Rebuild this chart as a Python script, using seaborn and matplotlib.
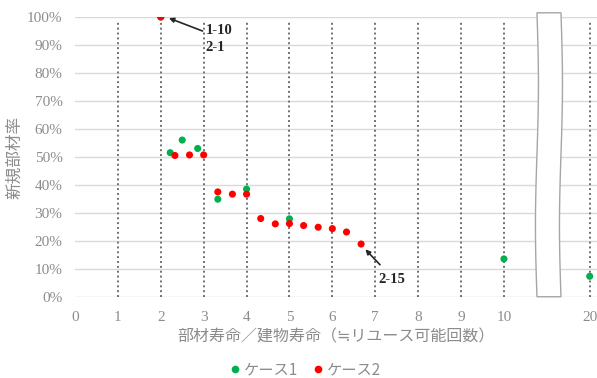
import numpy as np
import pandas as pd
import matplotlib
matplotlib.use("Agg")
import matplotlib.pyplot as plt
import seaborn as sns
from matplotlib.patches import Polygon
from matplotlib.lines import Line2D

# ---- data ----
case1_x = [2, 2.22, 2.5, 2.86, 3.33, 4, 5, 10, 20]
case1_y = [100, 51.6, 56.1, 53.1, 35.0, 38.6, 28.0, 13.7, 7.5]
case2_x = [2, 2.33, 2.67, 3, 3.33, 3.67, 4, 4.33, 4.67, 5, 5.33, 5.67, 6, 6.33, 6.67]
case2_y = [100, 50.6, 50.8, 50.8, 37.6, 36.8, 36.8, 28.1, 26.2, 26.3, 25.6, 25.0, 24.5, 23.3, 19.0]
series_names = ["ケース1", "ケース2"]
series_colors = ["#00B050", "#FF0000"]
x_tick_values = [0, 1, 2, 3, 4, 5, 6, 7, 8, 9, 10, 20]
y_tick_values = [0, 10, 20, 30, 40, 50, 60, 70, 80, 90, 100]
x_label = "部材寿命／建物寿命（≒リユース可能回数）"
y_label = "新規部材率"

# broken axis: values beyond 10 are drawn at position 12
def axis_pos(v):
    return v if v <= 10 else 12

df = pd.DataFrame({
    "x": [axis_pos(v) for v in case1_x + case2_x],
    "y": case1_y + case2_y,
    "series": [series_names[0]] * len(case1_x) + [series_names[1]] * len(case2_x),
})

sns.set_theme(style="white")
plt.rcParams['font.family'] = ['Liberation Serif', 'Noto Sans CJK JP', 'DejaVu Sans']

fig = plt.figure(figsize=(5.97, 3.78), dpi=100)
ax = fig.add_axes([0.1256, 0.2135, 0.8744, 0.7415])

ax.set_xlim(0, 12.17)
ax.set_ylim(0, 100)

# grid
for yv in y_tick_values:
    ax.axhline(yv, color="#d9d9d9", lw=1.0, zorder=0)
for xv in x_tick_values[1:]:
    ax.axvline(axis_pos(xv), ymin=0, ymax=0.985, color="#6f6f6f", lw=1.4,
               ls=(0, (1, 1.5)), zorder=1)

sns.scatterplot(data=df, x="x", y="y", hue="series", hue_order=series_names,
                palette=series_colors, s=26, edgecolor="none", ax=ax, zorder=3,
                legend=False)

# break symbol
t = np.linspace(0, 1, 40)
y_top, y_bot = 101.5, 0.2
ys = y_bot + (y_top - y_bot) * t
left = 10.77 - 0.035 * np.sin(2 * np.pi * t)
right = 11.33 - 0.035 * np.sin(2 * np.pi * t)
pts = np.vstack([np.column_stack([left, ys]), np.column_stack([right[::-1], ys[::-1]])])
ax.add_patch(Polygon(pts, closed=True, facecolor="white", edgecolor="#a6a6a6",
                     lw=1.0, zorder=5, clip_on=False))

for s in ax.spines.values():
    s.set_visible(False)

ax.set_xticks([axis_pos(v) for v in x_tick_values])
ax.set_xticklabels([str(v) for v in x_tick_values])
ax.set_yticks(y_tick_values)
ax.set_yticklabels([f"{v}%" for v in y_tick_values])
ax.tick_params(axis="x", length=0, labelsize=11, labelcolor="#8c8c8c", pad=10)
ax.tick_params(axis="y", length=0, labelsize=11, labelcolor="#8c8c8c", pad=9)
for lab in ax.get_xticklabels() + ax.get_yticklabels():
    lab.set_fontfamily("Liberation Serif")
ax.get_xticklabels()[-1].set_x(12.12)

ax.set_xlabel(x_label, fontsize=11.5, color="#8c8c8c", labelpad=3,
              family=["Noto Sans CJK JP", "DejaVu Sans"])
ax.set_ylabel(y_label, fontsize=12, color="#8c8c8c", labelpad=3,
              family=["Noto Sans CJK JP", "DejaVu Sans"])

# annotations
ax.annotate("1-10\n2-1", xy=(2.19, 99.6), xytext=(3.05, 97.5),
            fontsize=10.5, fontweight="bold", color="#262626", va="top", ha="left",
            linespacing=1.35, family="Liberation Serif",
            arrowprops=dict(arrowstyle="-|>", color="#262626", lw=1.2,
                            shrinkA=0, shrinkB=0, mutation_scale=7,
                            relpos=(0, 0.72)))
ax.annotate("2-15", xy=(6.77, 17.1), xytext=(7.08, 6.5),
            fontsize=10.5, fontweight="bold", color="#262626", va="center", ha="left",
            family="Liberation Serif",
            arrowprops=dict(arrowstyle="-|>", color="#262626", lw=1.2,
                            shrinkA=0, shrinkB=0, mutation_scale=7,
                            relpos=(0.05, 1.6)))

# legend
handles = [Line2D([0], [0], marker="o", ls="none", color=c, markersize=4.5)
           for c in series_colors]
leg = fig.legend(handles, series_names, loc="center", bbox_to_anchor=(0.51, 0.022),
                 ncol=2, frameon=False, handletextpad=0.1,
                 columnspacing=0.8, handlelength=1.0,
                 prop={"family": ["Noto Sans CJK JP", "DejaVu Sans"], "size": 11})
for txt in leg.get_texts():
    txt.set_color("#8c8c8c")

fig.savefig("out.png", dpi=100)
